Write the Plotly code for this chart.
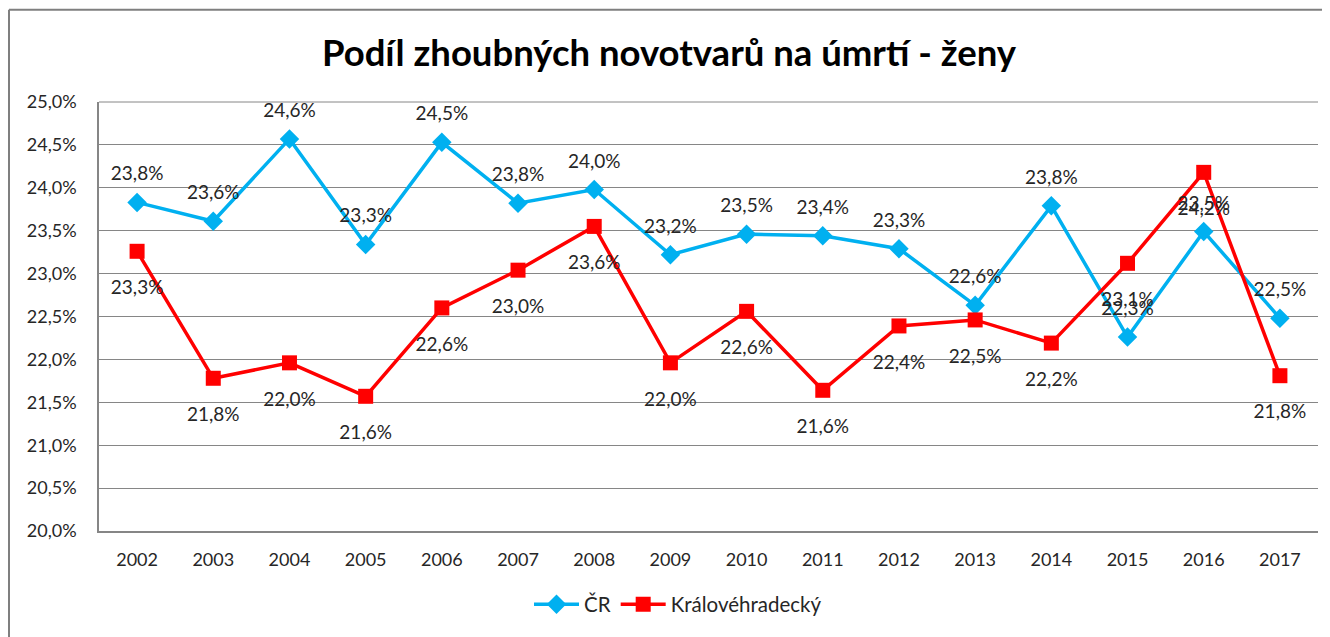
import plotly.graph_objects as go

years = [str(y) for y in range(2002, 2018)]
cr = [23.83, 23.61, 24.57, 23.34, 24.53, 23.82, 23.98, 23.22, 23.46, 23.44, 23.29, 22.63, 23.79, 22.26, 23.49, 22.48]
kh = [23.26, 21.78, 21.96, 21.57, 22.60, 23.04, 23.55, 21.96, 22.56, 21.64, 22.39, 22.46, 22.19, 23.12, 24.18, 21.81]

FONT = "Lato, 'Open Sans', sans-serif"
OFF = 8  # page body margin
W, H = 1330 - OFF, 637 - OFF
L, R, T, B = 99 - OFF, 12, 102 - OFF, 103
pw, ph = W - L - R, H - T - B

def px(x):  # reference screen x -> paper
    return (x - OFF - L) / pw

def py(y):  # reference screen y -> paper
    return (H - B - (y - OFF)) / ph

def lab(v):
    return f"{v:.1f}".replace(".", ",") + "%"

fig = go.Figure()
fig.add_trace(go.Scatter(
    x=years, y=cr, name="ČR", mode="lines+markers",
    line=dict(color="#00B0F0", width=3.5),
    marker=dict(symbol="diamond", size=15, color="#00B0F0"),
))
fig.add_trace(go.Scatter(
    x=years, y=kh, name="Královéhradecký", mode="lines+markers",
    line=dict(color="#FF0000", width=3.5),
    marker=dict(symbol="square", size=15, color="#FF0000"),
))
# data labels
fig.add_trace(go.Scatter(
    x=years, y=cr, mode="markers+text", showlegend=False, hoverinfo="skip",
    marker=dict(size=26, opacity=0),
    text=[lab(v) for v in cr], textposition="top center",
    textfont=dict(size=19, color="#262626", family=FONT),
))
fig.add_trace(go.Scatter(
    x=years, y=kh, mode="markers+text", showlegend=False, hoverinfo="skip",
    marker=dict(size=44, opacity=0),
    text=[lab(v) for v in kh], textposition="bottom center",
    textfont=dict(size=19, color="#262626", family=FONT),
))

fig.update_layout(
    width=W, height=H,
    margin=dict(l=L, r=R, t=T, b=B),
    paper_bgcolor="white", plot_bgcolor="white",
    separators=", ",
    font=dict(family=FONT, size=18, color="#262626"),
    title=dict(text="<b>Podíl zhoubných novotvarů na úmrtí - ženy</b>",
               x=0.5, xanchor="center", y=1 - 45 / H, yanchor="middle",
               font=dict(size=36.5, color="#000000", family=FONT)),
    showlegend=True,
    legend=dict(orientation="h", x=px(678), xanchor="center", y=py(608), yanchor="middle",
                font=dict(size=20.5, color="#262626", family=FONT), itemwidth=45,
                tracegroupgap=0),
    xaxis=dict(type="category", range=[-0.5, 15.5], showgrid=False,
               showline=True, linecolor="#868686", linewidth=1.5,
               ticks="", ticklabelstandoff=12, tickfont=dict(size=18)),
    yaxis=dict(range=[20, 25], dtick=0.5, tick0=20, tickformat=".1f", ticksuffix="%",
               showgrid=True, gridcolor="#868686", gridwidth=1,
               showline=True, linecolor="#868686", linewidth=1.5,
               ticks="", ticklabelstandoff=17, tickfont=dict(size=18), zeroline=False),
    shapes=[
        dict(type="line", xref="paper", yref="paper", x0=px(9), x1=px(1340), y0=py(9), y1=py(9),
             line=dict(color="#7F7F7F", width=2)),
        dict(type="line", xref="paper", yref="paper", x0=px(9), x1=px(9), y0=py(9), y1=py(650),
             line=dict(color="#7F7F7F", width=2)),
        dict(type="line", xref="paper", yref="paper", x0=0, x1=1, y0=1, y1=1,
             line=dict(color="#868686", width=1)),
    ],
)

fig.write_html("out.html")
